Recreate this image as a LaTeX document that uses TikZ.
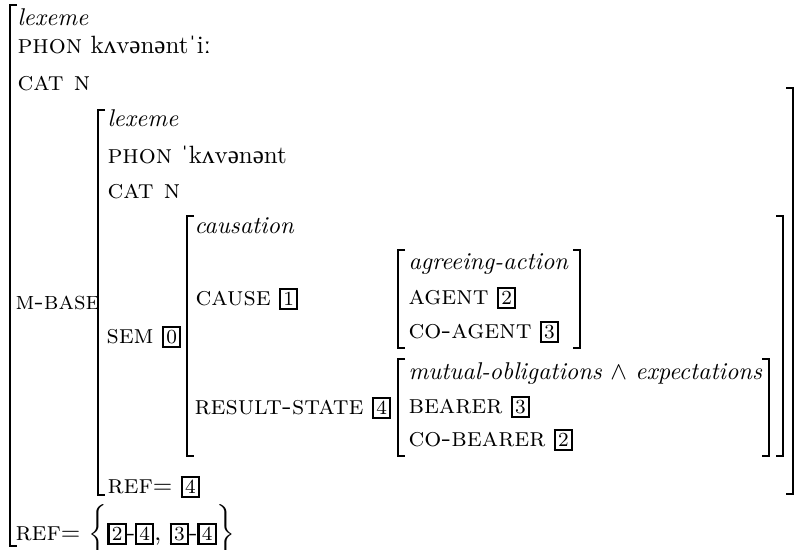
\documentclass[tikz,border=0pt]{standalone}
\usepackage{fontspec}
\newfontfamily\ipafont{Liberation Serif}
\newcommand\avmtag[1]{{\setlength{\fboxrule}{0.85pt}\setlength{\fboxsep}{0.9pt}\fbox{\fontsize{8}{8}\selectfont #1}}}
\newcommand\fsc[1]{{\fontsize{10.7}{12}\selectfont\textsc{#1}}}
\newcommand\fit[1]{{\fontsize{9.7}{12}\selectfont\textit{#1}}}
\newcommand\ip[1]{{\ipafont #1}}
\newcommand\lbrk[3]{\draw[brk] (#1+7,#2) -- (#1,#2) -- (#1,#3) -- (#1+7,#3);}
\newcommand\rbrk[3]{\draw[brk] (#1-7,#2) -- (#1,#2) -- (#1,#3) -- (#1-7,#3);}
\begin{document}
\begin{tikzpicture}[x=0.4pt,y=-0.4pt,
  lbl/.style={anchor=mid west, inner sep=0pt, font=\fontsize{10}{12}\selectfont},
  brk/.style={line width=0.6pt, line join=miter}]
\useasboundingbox (0,0) rectangle (797,550);
% brackets
\lbrk{10}{5}{546}
\lbrk{98}{110}{495}
\rbrk{793}{88}{494}
\lbrk{187}{216}{456}
\rbrk{783}{216}{456}
\lbrk{398}{250}{348}
\rbrk{580}{250}{348}
\lbrk{398}{359}{456}
\rbrk{769}{359}{456}
% outer
\node[lbl] (t1) at (17,20) {\fit{lexeme}};
\node[lbl] (t2) at (17,48) {\fsc{phon} k\ip{ʌ}v\ip{ə}n\ip{ə}nt\ip{ˈ}i\ip{ː}};
\node[lbl] (t3) at (17,85) {\fsc{cat n}};
\node[lbl] (t4) at (15,304) {{\fontsize{10.1}{12}\selectfont\textsc{m-base}}};
\node[lbl] (t5) at (15,535) {\fsc{ref}$=$ $\bigg\{$\avmtag{2}-\avmtag{4}, \avmtag{3}-\avmtag{4}$\bigg\}$};
% m-base
\node[lbl] (m1) at (107,121) {\fit{lexeme}};
\node[lbl] (m2) at (107,158) {\fsc{phon} \ip{ˈ}k\ip{ʌ}v\ip{ə}n\ip{ə}nt};
\node[lbl] (m3) at (107,193) {\fsc{cat n}};
\node[lbl] (m4) at (106,338) {\fsc{sem} \avmtag{0}};
\node[lbl] (m5) at (107,488) {\fsc{ref}$=$ \avmtag{4}};
% causation
\node[lbl] (c1) at (194,228) {\fit{causation}};
\node[lbl] (c2) at (195,300) {\fsc{cause} \avmtag{1}};
\node[lbl] (c3) at (194,409) {\fsc{result-state} \avmtag{4}};
% agreeing-action
\node[lbl] (a1) at (408,264) {\fit{agreeing-action}};
\node[lbl] (a2) at (408,299) {\fsc{agent} \avmtag{2}};
\node[lbl] (a3) at (408,333) {\fsc{co-agent} \avmtag{3}};
% mutual obligations
\node[lbl] (b1) at (408,374) {\fit{mutual-obligations} $\wedge$ \fit{expectations}};
\node[lbl] (b2) at (408,408) {\fsc{bearer} \avmtag{3}};
\node[lbl] (b3) at (408,441) {\fsc{co-bearer} \avmtag{2}};
\end{tikzpicture}
\end{document}
